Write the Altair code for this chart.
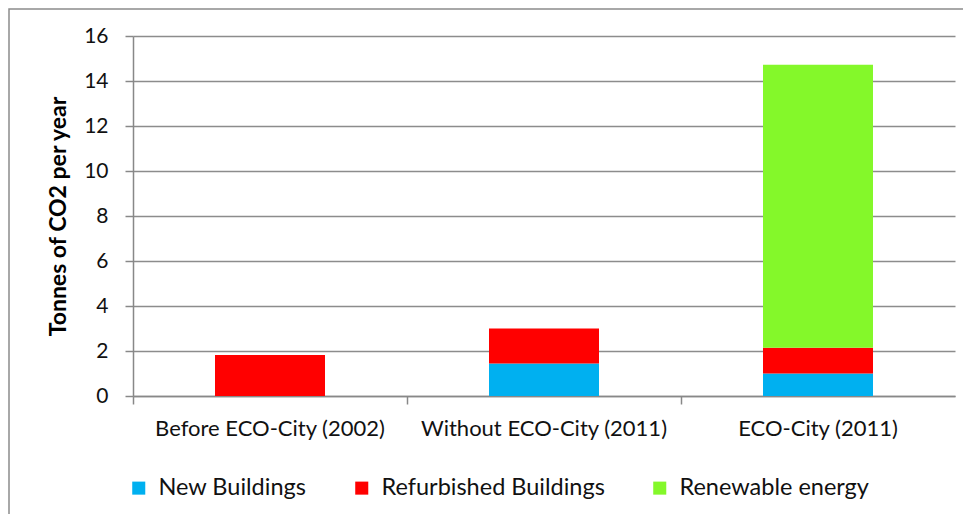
import altair as alt
import pandas as pd

categories = ["Before ECO-City (2002)", "Without ECO-City (2011)", "ECO-City (2011)"]
series = ["New Buildings", "Refurbished Buildings", "Renewable energy"]
new_buildings = [0.0, 1.44, 1.0]
refurbished = [1.82, 1.56, 1.15]
renewable = [0.0, 0.0, 12.57]
colors = ["#00B0F0", "#FF0000", "#84F82A"]
y_ticks = [0, 2, 4, 6, 8, 10, 12, 14, 16]

rows = []
for i, c in enumerate(categories):
    for j, (s, vals) in enumerate(zip(series, [new_buildings, refurbished, renewable])):
        rows.append({"category": c, "series": s, "value": vals[i], "order": j})
df = pd.DataFrame(rows)

FONT = "Lato"
W, H = 822, 360

bars = alt.Chart(df).mark_bar(size=110).encode(
    x=alt.X("category:N", sort=categories, title=None,
            scale=alt.Scale(paddingInner=0, paddingOuter=0),
            axis=alt.Axis(labelAngle=0, labelFontSize=22, labelFont=FONT, labelColor="#111",
                          labelPadding=14, labelLimit=0, tickSize=8, tickColor="#888",
                          domainColor="#888", domainWidth=1.5, tickWidth=1.5,
                          bandPosition=0, grid=False)),
    y=alt.Y("value:Q", stack="zero", title="Tonnes of CO2 per year",
            scale=alt.Scale(domain=[0, 16], nice=False),
            axis=alt.Axis(values=y_ticks, labelFontSize=21, labelFont=FONT, labelColor="#111",
                          labelPadding=17, tickSize=8, tickColor="#888", domainColor="#888",
                          domainWidth=1.5, tickWidth=1.5, gridColor="#8c8c8c", gridWidth=1.5,
                          titleFontSize=23, titleFont=FONT, titleFontWeight="bold",
                          titleColor="#000", titlePadding=13)),
    color=alt.Color("series:N", sort=series,
                    scale=alt.Scale(domain=series, range=colors),
                    legend=alt.Legend(title=None, orient="none", direction="horizontal",
                                      legendX=-6, legendY=440, symbolType="square",
                                      symbolSize=170, symbolStrokeWidth=0, labelFontSize=23.5,
                                      labelFont=FONT, labelColor="#111", labelLimit=0,
                                      columnPadding=43, labelOffset=8)),
    order=alt.Order("order:Q"),
)

border = alt.Chart(pd.DataFrame({"a": [0]})).mark_rect(
    fill=None, stroke="#8c8c8c", strokeWidth=1.5, clip=False
).encode(
    x=alt.value(-124), x2=alt.value(880), y=alt.value(-27), y2=alt.value(540)
)

chart = alt.layer(bars, border).properties(
    width=W, height=H,
    autosize=alt.AutoSizeParams(type="none"),
    padding={"left": 125, "top": 28, "right": 8, "bottom": 118},
).configure_view(stroke=None)

chart.save("out.html", embed_options={"renderer": "svg", "actions": False})
